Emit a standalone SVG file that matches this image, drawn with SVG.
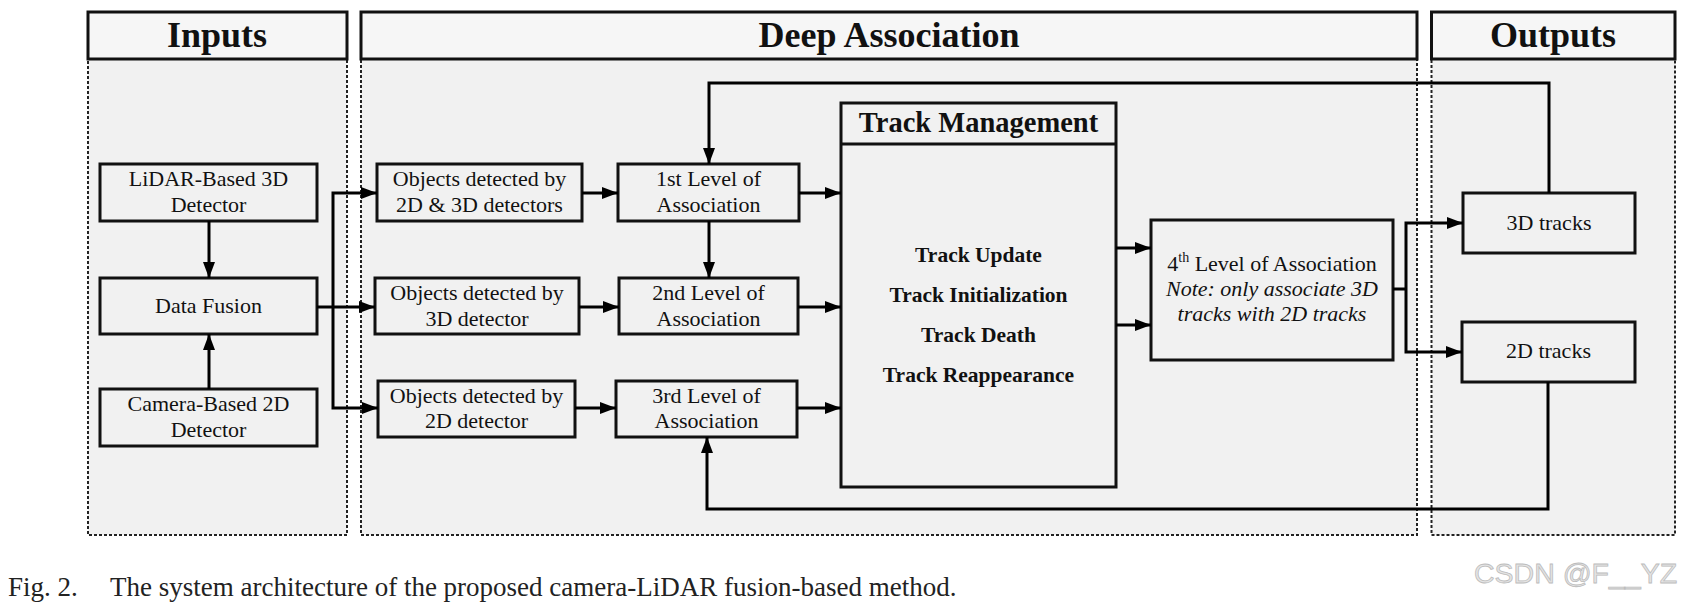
<svg xmlns="http://www.w3.org/2000/svg" width="1682" height="603" viewBox="0 0 1682 603">
<defs>
<marker id="arr" markerUnits="userSpaceOnUse" markerWidth="16" markerHeight="12" refX="16" refY="6" orient="auto"><path d="M0,0 L16,6 L0,12 z" fill="#000"/></marker>
</defs>
<style>
.region{fill:#f1f1f1;stroke:#222;stroke-width:2;stroke-dasharray:3 2}
.hdr{fill:#f6f6f6;stroke:#111;stroke-width:3}
.box{fill:#f1f1f1;stroke:#111;stroke-width:3}
text{font-family:"Liberation Serif","Times New Roman",serif;fill:#111}
.t{font-size:22px;text-anchor:middle}
.h{font-size:36px;font-weight:bold;text-anchor:middle}
.tm{font-size:28.5px;font-weight:bold;text-anchor:middle}
.b{font-size:21.5px;font-weight:bold;text-anchor:middle}
.i{font-style:italic}
.cap{font-size:27px;fill:#222}
.wm{font-family:"Liberation Sans",Arial,sans-serif;font-size:28.5px;fill:#e4e4e4;stroke:#bcbcbc;stroke-width:0.8}
.conn path{fill:none;stroke:#000;stroke-width:3}
.arrow{marker-end:url(#arr)}
</style>
<rect width="1682" height="603" fill="#fff"/>
<g id="inputs">
<rect class="region" x="88" y="59" width="259" height="476"/>
<rect class="hdr" x="88" y="12" width="259" height="47"/>
<text class="h" x="217" y="47">Inputs</text>
</g>
<g id="deep-association">
<rect class="region" x="361" y="59" width="1056" height="476"/>
<rect class="hdr" x="361" y="12" width="1056" height="47"/>
<text class="h" x="889" y="47">Deep Association</text>
</g>
<g id="outputs">
<rect class="region" x="1431.5" y="59" width="243.5" height="476"/>
<rect class="hdr" x="1431.5" y="12" width="243.5" height="47"/>
<text class="h" x="1553" y="47">Outputs</text>
</g>
<g id="lidar">
<rect class="box" x="100" y="164" width="217" height="57"/>
<text class="t" x="208.5" y="186">LiDAR-Based 3D</text>
<text class="t" x="208.5" y="212">Detector</text>
</g>
<g id="fusion">
<rect class="box" x="100" y="278" width="217" height="56"/>
<text class="t" x="208.5" y="313">Data Fusion</text>
</g>
<g id="camera">
<rect class="box" x="100" y="389" width="217" height="57"/>
<text class="t" x="208.5" y="411">Camera-Based 2D</text>
<text class="t" x="208.5" y="437">Detector</text>
</g>
<g id="obj1">
<rect class="box" x="377" y="164" width="205" height="57"/>
<text class="t" x="479.5" y="186">Objects detected by</text>
<text class="t" x="479.5" y="212">2D &amp; 3D detectors</text>
</g>
<g id="obj2">
<rect class="box" x="375" y="278" width="204" height="56"/>
<text class="t" x="477" y="300">Objects detected by</text>
<text class="t" x="477" y="326">3D detector</text>
</g>
<g id="obj3">
<rect class="box" x="378" y="381" width="197" height="56"/>
<text class="t" x="476.5" y="403">Objects detected by</text>
<text class="t" x="476.5" y="428">2D detector</text>
</g>
<g id="level1">
<rect class="box" x="618" y="164" width="181" height="57"/>
<text class="t" x="708.5" y="186">1st Level of</text>
<text class="t" x="708.5" y="212">Association</text>
</g>
<g id="level2">
<rect class="box" x="619" y="278" width="179" height="56"/>
<text class="t" x="708.5" y="300">2nd Level of</text>
<text class="t" x="708.5" y="326">Association</text>
</g>
<g id="level3">
<rect class="box" x="616" y="381" width="181" height="56"/>
<text class="t" x="706.5" y="403">3rd Level of</text>
<text class="t" x="706.5" y="428">Association</text>
</g>
<g id="track-management">
<rect class="box" x="841" y="103" width="275" height="384"/>
<line x1="841" y1="144" x2="1116" y2="144" stroke="#111" stroke-width="3"/>
<text class="tm" x="978.5" y="132">Track Management</text>
<text class="b" x="978.5" y="262">Track Update</text>
<text class="b" x="978.5" y="302">Track Initialization</text>
<text class="b" x="978.5" y="342">Track Death</text>
<text class="b" x="978.5" y="382">Track Reappearance</text>
</g>
<g id="level4">
<rect class="box" x="1151" y="220" width="242" height="140"/>
<text class="t" x="1272" y="271">4<tspan font-size="14" dy="-9">th</tspan><tspan dy="9"> Level of Association</tspan></text>
<text class="t i" x="1272" y="296">Note: only associate 3D</text>
<text class="t i" x="1272" y="321">tracks with 2D tracks</text>
</g>
<g id="tracks3d">
<rect class="box" x="1463" y="193" width="172" height="60"/>
<text class="t" x="1549" y="230">3D tracks</text>
</g>
<g id="tracks2d">
<rect class="box" x="1462" y="322" width="173" height="60"/>
<text class="t" x="1548.5" y="358">2D tracks</text>
</g>
<g id="connectors" class="conn">
<path class="arrow" d="M209,221 V278"/>
<path class="arrow" d="M209,389 V334"/>
<path class="arrow" d="M317,307 H375"/>
<path class="arrow" d="M333,307 V193 H377"/>
<path class="arrow" d="M333,307 V408 H378"/>
<path class="arrow" d="M582,193 H618"/>
<path class="arrow" d="M579,307 H619"/>
<path class="arrow" d="M575,408 H616"/>
<path class="arrow" d="M799,193 H841"/>
<path class="arrow" d="M798,307 H841"/>
<path class="arrow" d="M797,408 H841"/>
<path class="arrow" d="M709,221 V278"/>
<path class="arrow" d="M1116,248 H1151"/>
<path class="arrow" d="M1116,325 H1151"/>
<path d="M1393,289 H1406"/>
<path class="arrow" d="M1406,289 V223 H1463"/>
<path class="arrow" d="M1406,289 V352 H1462"/>
<path class="arrow" d="M1549,193 V83 H709 V164"/>
<path class="arrow" d="M1548,382 V509 H707 V437"/>
</g>
<text class="cap" x="8" y="596">Fig. 2.</text>
<text class="cap" x="110" y="596">The system architecture of the proposed camera-LiDAR fusion-based method.</text>
<text class="wm" x="1474" y="583">CSDN @F__YZ</text>
</svg>
